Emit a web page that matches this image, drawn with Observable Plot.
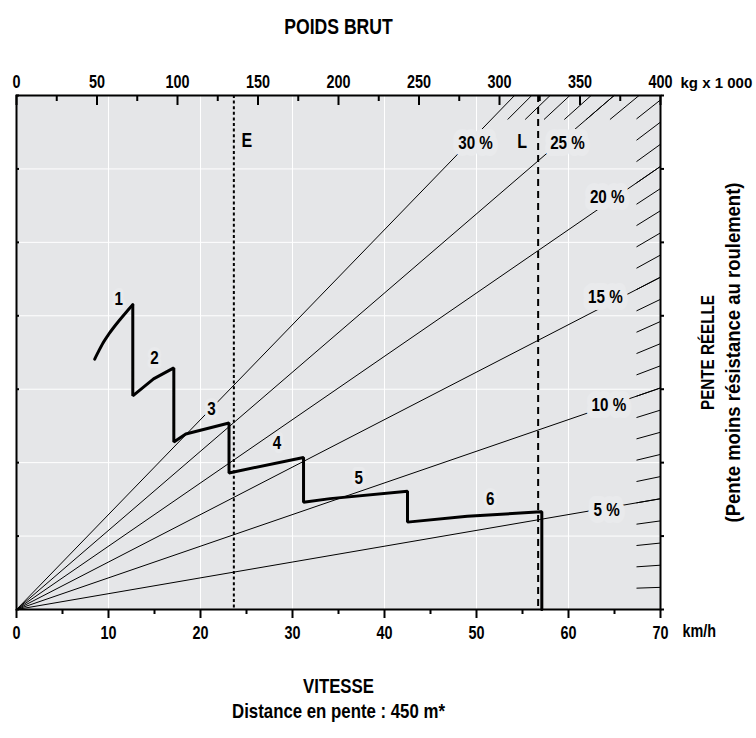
<!DOCTYPE html>
<html>
<head>
<meta charset="utf-8">
<script src="https://cdn.jsdelivr.net/npm/d3@7"></script>
<script src="https://cdn.jsdelivr.net/npm/@observablehq/plot@0.6"></script>
<style>
  html, body { margin: 0; padding: 0; background: #fff; }
  #chart { width: 756px; height: 738px; }
</style>
</head>
<body>
<div id="chart"></div>
<script>
// ---------- data ----------
const speedTicks = [0, 10, 20, 30, 40, 50, 60, 70];
const speedMinorTicks = [5, 15, 25, 35, 45, 55, 65];
const weightTicks = [0, 50, 100, 150, 200, 250, 300, 350, 400];
const weightMinorTicks = [25, 75, 125, 175, 225, 275, 325, 375];
const yTicks = [0, 1, 2, 3, 4, 5, 6, 7];

// retarder curve, gear 1 (speed km/h, force in grid units)
const gear1Speed = [8.5, 9.0, 9.5, 10.0, 10.5, 11.1, 11.9, 12.64];
const gear1Force = [3.41, 3.535, 3.65, 3.745, 3.83, 3.925, 4.045, 4.15];
// retarder curve, gears 2-6 with the shifts
const curveSpeed = [12.64, 12.64, 14.9, 17.1, 17.1, 18.4, 23.1, 23.1, 31.2, 31.2, 34.1, 42.5, 42.5, 49.0, 57.0, 57.1, 57.1];
const curveForce = [4.15, 2.91, 3.14, 3.29, 2.28, 2.39, 2.54, 1.86, 2.07, 1.46, 1.51, 1.61, 1.19, 1.27, 1.33, 1.33, 0];

const gears = ["1", "2", "3", "4", "5", "6"];
const gearLabelSpeed = [11.1, 15.0, 21.2, 28.3, 37.2, 51.5];
const gearLabelForce = [4.23, 3.42, 2.73, 2.27, 1.79, 1.51];

const grades = [5, 10, 15, 20, 25, 30];
const gradeLabelWeight = [366.5, 367.9, 365.8, 366.9, 342.2, 285.1];
const gradeLabelForce = [1.36, 2.79, 4.26, 5.62, 6.36, 6.35];

const hatchGrades = [1, 2, 3, 4, 5, 6, 7, 8, 9, 10, 11, 12, 13, 14, 15, 16, 17, 18, 19, 20, 21, 22, 23,
  24, 25, 26, 27, 28, 29];

const emptyWeight = 135;   // E
const loadedWeight = 324;  // L
const markerNames = ["E", "L"];
const markerLabelWeight = [143, 314];
const markerLabelForce = [6.39, 6.37];

// ---------- geometry helpers ----------
const W_MAX = 400, V_MAX = 70, F_MAX = 7, TOP_GRADE = 23.2;
const PX_W = 644, PX_H = 514;
const wx = w => w * V_MAX / W_MAX;
const gradeForce = (w, g) => F_MAX * (w / W_MAX) * (g / TOP_GRADE);
function gradeEnd(g) {
  return g <= TOP_GRADE ? {w: W_MAX, f: gradeForce(W_MAX, g)} : {w: W_MAX * TOP_GRADE / g, f: F_MAX};
}
function hatchStart(g) {
  if (g <= TOP_GRADE) { const w = W_MAX - 24 * W_MAX / PX_W; return {w, f: gradeForce(w, g)}; }
  const f = F_MAX - 24 * F_MAX / PX_H;
  return {w: f * W_MAX * TOP_GRADE / (F_MAX * g), f};
}

const gear1 = gear1Speed.map((s, i) => ({s, f: gear1Force[i]}));
const curve = curveSpeed.map((s, i) => ({s, f: curveForce[i]}));
const gearLabels = gears.map((t, i) => ({t, s: gearLabelSpeed[i], f: gearLabelForce[i]}));
const gradeLabels = grades.map((g, i) => ({t: `${g} %`, w: gradeLabelWeight[i], f: gradeLabelForce[i]}));
const markerLabels = markerNames.map((n, i) => ({n, w: markerLabelWeight[i], f: markerLabelForce[i]}));

const BG = "#e5e6e8";
const HALO = "#e9eaec";
const FONT = '"Liberation Sans", Arial, Roboto, sans-serif';

const chart = Plot.plot({
  width: 756,
  height: 738,
  marginTop: 95,
  marginRight: 96,
  marginBottom: 129,
  marginLeft: 16,
  style: {fontFamily: FONT, fontWeight: "bold", fontSize: "18px", background: "white", overflow: "visible", color: "black"},
  x: {domain: [0, V_MAX]},
  y: {domain: [0, F_MAX]},
  marks: [
    Plot.frame({fill: BG}),
    Plot.gridX({ticks: speedTicks.slice(1, -1), stroke: "white", strokeOpacity: 1, strokeWidth: 1}),
    Plot.gridY({ticks: yTicks.slice(1, -1), stroke: "white", strokeOpacity: 1, strokeWidth: 1}),

    // grade lines from origin
    Plot.link(grades, {x1: 0, y1: 0, x2: g => wx(gradeEnd(g).w), y2: g => gradeEnd(g).f, stroke: "black", strokeWidth: 1}),
    // short grade hatches along the edges
    Plot.link(hatchGrades, {
      x1: g => wx(hatchStart(g).w), y1: g => hatchStart(g).f,
      x2: g => wx(gradeEnd(g).w), y2: g => gradeEnd(g).f,
      stroke: "black", strokeWidth: 1
    }),
    // grade labels with halo
    Plot.text(gradeLabels, {x: d => wx(d.w), y: "f", text: "t", fontSize: 19, fill: "black",
      stroke: HALO, strokeWidth: 14, strokeLinejoin: "round"}),

    // E / L vertical lines
    Plot.ruleX([wx(emptyWeight)], {stroke: "black", strokeWidth: 2, strokeDasharray: "3,2.6"}),
    Plot.ruleX([wx(loadedWeight)], {stroke: "black", strokeWidth: 2, strokeDasharray: "7,5"}),
    Plot.text(markerLabels, {x: d => wx(d.w), y: "f", text: "n", fontSize: 20}),

    // retarder curve
    Plot.line(gear1, {x: "s", y: "f", curve: "monotone-x", stroke: "black", strokeWidth: 3}),
    Plot.line(curve, {x: "s", y: "f", stroke: "black", strokeWidth: 3, strokeLinejoin: "miter"}),
    Plot.text(gearLabels, {x: "s", y: "f", text: "t", fontSize: 19, fill: "black",
      stroke: HALO, strokeWidth: 8, strokeLinejoin: "round"}),

    // frame
    Plot.frame({stroke: "black", strokeWidth: 2}),

    // bottom axis (speed)
    Plot.axisX({ticks: speedTicks, anchor: "bottom", tickSize: 9, tickPadding: 8, strokeWidth: 2, fontSize: 18, label: null}),
    Plot.axisX({ticks: speedMinorTicks, anchor: "bottom", tickSize: 5, strokeWidth: 2, tickFormat: () => "", label: null}),
    // top axis (gross weight)
    Plot.axisX({ticks: weightTicks.map(wx), anchor: "top", tickSize: 0, tickPadding: 8, fontSize: 18,
      tickFormat: d => Math.round(d * W_MAX / V_MAX), label: null}),
    Plot.ruleX(weightTicks.map(wx), {insetBottom: PX_H - 10, stroke: "black", strokeWidth: 2}),
    Plot.ruleX(weightMinorTicks.map(wx), {insetBottom: PX_H - 6, stroke: "black", strokeWidth: 2}),
    // left / right small ticks
    Plot.ruleY(yTicks, {insetRight: PX_W - 3, stroke: "black", strokeWidth: 2}),
    Plot.axisY({ticks: yTicks, anchor: "right", tickSize: 3, strokeWidth: 2, tickFormat: () => "", label: null}),

    // titles and units
    Plot.text(["POIDS BRUT"], {frameAnchor: "top", dy: -77, fontSize: 22}),
    Plot.text(["kg x 1 000"], {x: V_MAX, frameAnchor: "top", textAnchor: "start", dx: 20, dy: -18, fontSize: 15, className: "plain-text"}),
    Plot.text(["km/h"], {x: V_MAX, frameAnchor: "bottom", textAnchor: "start", dx: 22, dy: 27, fontSize: 18}),
    Plot.text(["VITESSE"], {frameAnchor: "bottom", dy: 83, fontSize: 21}),
    Plot.text(["Distance en pente : 450 m*"], {frameAnchor: "bottom", dy: 108, fontSize: 21}),
    Plot.text(["PENTE RÉELLE"], {frameAnchor: "right", textAnchor: "middle", rotate: -90, dx: 47, fontSize: 19}),
    Plot.text(["(Pente moins résistance au roulement)"], {frameAnchor: "right", textAnchor: "middle", rotate: -90, dx: 73, fontSize: 21, className: "wide-text"})
  ]
});

document.getElementById("chart").appendChild(chart);

// condensed look: squeeze glyphs horizontally (text stays real text)
chart.querySelectorAll("text").forEach(t => {
  if (t.closest(".plain-text")) return;
  const n = t.getComputedTextLength();
  if (!(n > 0)) return;
  const k = t.closest(".wide-text") ? 0.88 : 0.8;
  t.setAttribute("textLength", (n * k).toFixed(2));
  t.setAttribute("lengthAdjust", "spacingAndGlyphs");
});
</script>
</body>
</html>
